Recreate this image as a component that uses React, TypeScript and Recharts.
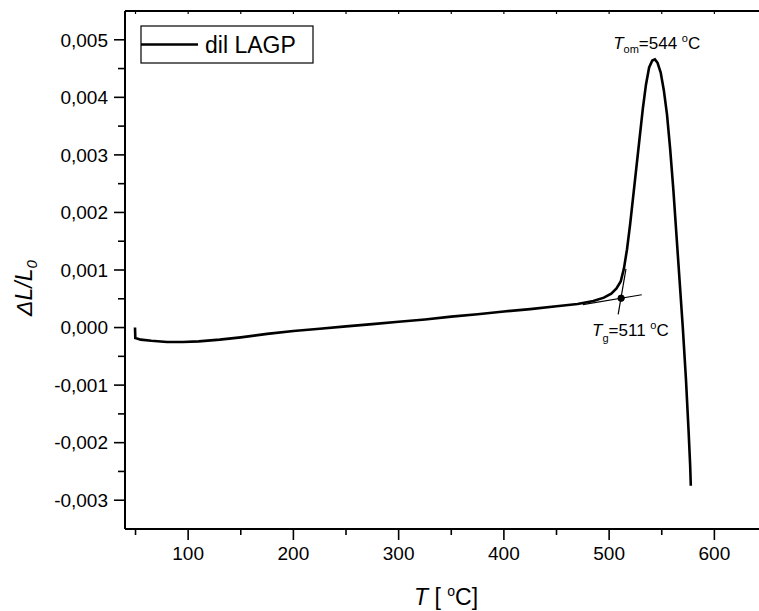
import React from 'react';
import {
  LineChart, Line, XAxis, YAxis, ReferenceDot, ReferenceLine, Customized,
} from 'recharts';

// temperature [°C]
const temperatures = [
  49.5, 49.8, 55, 65, 80, 95, 110, 130, 150, 175, 200, 225, 250, 275, 300, 325, 350, 375, 400, 425,
  450, 470, 485, 495, 502, 507, 511, 514, 517, 520, 523, 526, 529, 532, 535, 538, 541, 543.5, 546,
  549, 552, 555, 558, 561, 564, 567, 570, 573, 575.5, 577, 577.6,
];
// relative elongation dL/L0
const elongation = [
  0.0, -0.00018, -0.00021, -0.00023, -0.00025, -0.00025, -0.00024, -0.00021, -0.00017, -0.00011,
  -0.00006, -0.00002, 0.00002, 0.00006, 0.0001, 0.00014, 0.00019, 0.00023, 0.00028, 0.00032,
  0.00037, 0.00041, 0.00046, 0.00052, 0.00059, 0.00068, 0.0008, 0.00102, 0.00136, 0.0018, 0.0023,
  0.0028, 0.0033, 0.0038, 0.00422, 0.00452, 0.00464, 0.00466, 0.0046, 0.00443, 0.00412, 0.0037,
  0.0031, 0.0024, 0.0016, 0.0008, 0.0, -0.0009, -0.0018, -0.0024, -0.00275,
];

const xMajorTicks = [100, 200, 300, 400, 500, 600];
const xMinorTicks = [50, 150, 250, 350, 450, 550, 650];
const yMajorTicks = [-0.003, -0.002, -0.001, 0, 0.001, 0.002, 0.003, 0.004, 0.005];
const yMinorTicks = [-0.0025, -0.0015, -0.0005, 0.0005, 0.0015, 0.0025, 0.0035, 0.0045];

const seriesName = 'dil LAGP';
const tg = { t: 511.4, v: 0.00051 };
const tgTangentFlat = [{ x: 475, y: 0.0004 }, { x: 531, y: 0.00057 }];
const tgTangentSteep = [{ x: 508.6, y: 0.00023 }, { x: 516, y: 0.00102 }];
const tomLabelAnchor = { t: 503.8, v: 0.00484 };
const tgLabelAnchor = { t: 483.8, v: -0.00015 };

const data = temperatures.map((t, i) => ({ t, v: elongation[i] }));

const FONT = '"Liberation Sans", Arial, Helvetica, sans-serif';
const isIn = (arr: number[], v: number) => arr.some((a) => Math.abs(a - v) < 1e-9);
const fmtY = (v: number) => (Math.abs(v) < 1e-12 ? '0,000' : v.toFixed(3).replace('.', ','));

const XTick = (props: any) => {
  const { x, y, payload } = props;
  const axisY = y - 18;
  const major = isIn(xMajorTicks, payload.value);
  return (
    <g>
      <line x1={x} x2={x} y1={axisY} y2={axisY + (major ? 11 : 6)} stroke="#000" strokeWidth={1.6} />
      {major && (
        <text x={x} y={y} dy="0.71em" textAnchor="middle" fontSize={19} fontFamily={FONT} fill="#000">
          {payload.value}
        </text>
      )}
    </g>
  );
};

const YTick = (props: any) => {
  const { x, y, payload } = props;
  const axisX = x + 17;
  const major = isIn(yMajorTicks, payload.value);
  return (
    <g>
      <line x1={axisX - (major ? 11 : 7)} x2={axisX} y1={y} y2={y} stroke="#000" strokeWidth={1.6} />
      {major && (
        <text x={x} y={y} dy="0.355em" textAnchor="end" fontSize={19} fontFamily={FONT} fill="#000">
          {fmtY(payload.value)}
        </text>
      )}
    </g>
  );
};

const Decorations = () => (
  <g fontFamily={FONT} fill="#000">
    {/* legend */}
    <rect x={141} y={26} width={172} height={37} fill="#fff" stroke="#000" strokeWidth={1.2} />
    <line x1={141} x2={198} y1={44.5} y2={44.5} stroke="#000" strokeWidth={2.6} />
    <text x={205} y={53} fontSize={23}>{seriesName}</text>
    {/* y title */}
    <text transform="rotate(-90 32 288)" x={32} y={288} textAnchor="middle" fontSize={23}>
      <tspan fontStyle="italic">ΔL/L</tspan>
      <tspan fontStyle="italic" fontSize={15} dy={5}>0</tspan>
    </text>
    {/* x title */}
    <text x={446} y={605} textAnchor="middle" fontSize={23}>
      <tspan fontStyle="italic">T</tspan>
      <tspan> [ </tspan>
      <tspan fontSize={14} dy={-9}>o</tspan>
      <tspan dy={9}>C]</tspan>
    </text>
  </g>
);

const TomLabel = (props: any) => (
  <text x={props.cx} y={props.cy} fontFamily={FONT} fontSize={17} fill="#000">
    <tspan fontStyle="italic">T</tspan>
    <tspan fontSize={11} dy={4}>om</tspan>
    <tspan dy={-4}>=544 </tspan>
    <tspan fontSize={11} dy={-7}>o</tspan>
    <tspan dy={7}>C</tspan>
  </text>
);

const TgLabel = (props: any) => (
  <text x={props.cx} y={props.cy} fontFamily={FONT} fontSize={17} fill="#000">
    <tspan fontStyle="italic">T</tspan>
    <tspan fontSize={11} dy={6}>g</tspan>
    <tspan dy={-6}>=511 </tspan>
    <tspan fontSize={11} dy={-7}>o</tspan>
    <tspan dy={7}>C</tspan>
  </text>
);

export default function App() {
  return (
    <div style={{ position: 'absolute', left: 0, top: 0, width: 759, height: 611, overflow: 'hidden', background: '#fff' }}>
      <LineChart width={767} height={611} data={data} margin={{ top: 11, right: 0, bottom: 0, left: 0 }}>
        <XAxis
          dataKey="t"
          type="number"
          domain={[40, 650]}
          ticks={[...xMinorTicks, ...xMajorTicks].sort((a, b) => a - b)}
          height={82}
          tickSize={11}
          tickMargin={7}
          tickLine={{ stroke: 'none' }}
          tick={<XTick />}
          axisLine={{ stroke: '#000', strokeWidth: 2 }}
          allowDataOverflow
          interval={0}
        />
        <XAxis
          xAxisId="top"
          dataKey="t"
          type="number"
          orientation="top"
          domain={[40, 650]}
          ticks={[...xMinorTicks, ...xMajorTicks].sort((a, b) => a - b)}
          height={11}
          mirror
          tickSize={3}
          tickFormatter={() => ''}
          tickLine={{ stroke: '#000', strokeWidth: 1.2 }}
          axisLine={{ stroke: '#000', strokeWidth: 2 }}
          interval={0}
        />
        <YAxis
          type="number"
          domain={[-0.0035, 0.0055]}
          ticks={[...yMinorTicks, ...yMajorTicks].sort((a, b) => a - b)}
          width={125}
          tickSize={11}
          tickMargin={6}
          tickLine={{ stroke: 'none' }}
          tick={<YTick />}
          axisLine={{ stroke: '#000', strokeWidth: 2 }}
          allowDataOverflow
          interval={0}
        />
        <ReferenceLine segment={tgTangentFlat} stroke="#000" strokeWidth={1.2} ifOverflow="visible" />
        <ReferenceLine segment={tgTangentSteep} stroke="#000" strokeWidth={1.2} ifOverflow="visible" />
        <Line
          type="linear"
          dataKey="v"
          stroke="#000"
          strokeWidth={2.6}
          dot={false}
          activeDot={false}
          isAnimationActive={false}
        />
        <ReferenceDot x={tg.t} y={tg.v} r={3.2} fill="#000" stroke="#000" ifOverflow="visible" />
        <ReferenceDot x={tomLabelAnchor.t} y={tomLabelAnchor.v} r={0} shape={<TomLabel />} ifOverflow="visible" />
        <ReferenceDot x={tgLabelAnchor.t} y={tgLabelAnchor.v} r={0} shape={<TgLabel />} ifOverflow="visible" />
        <Customized component={<Decorations />} />
      </LineChart>
    </div>
  );
}
